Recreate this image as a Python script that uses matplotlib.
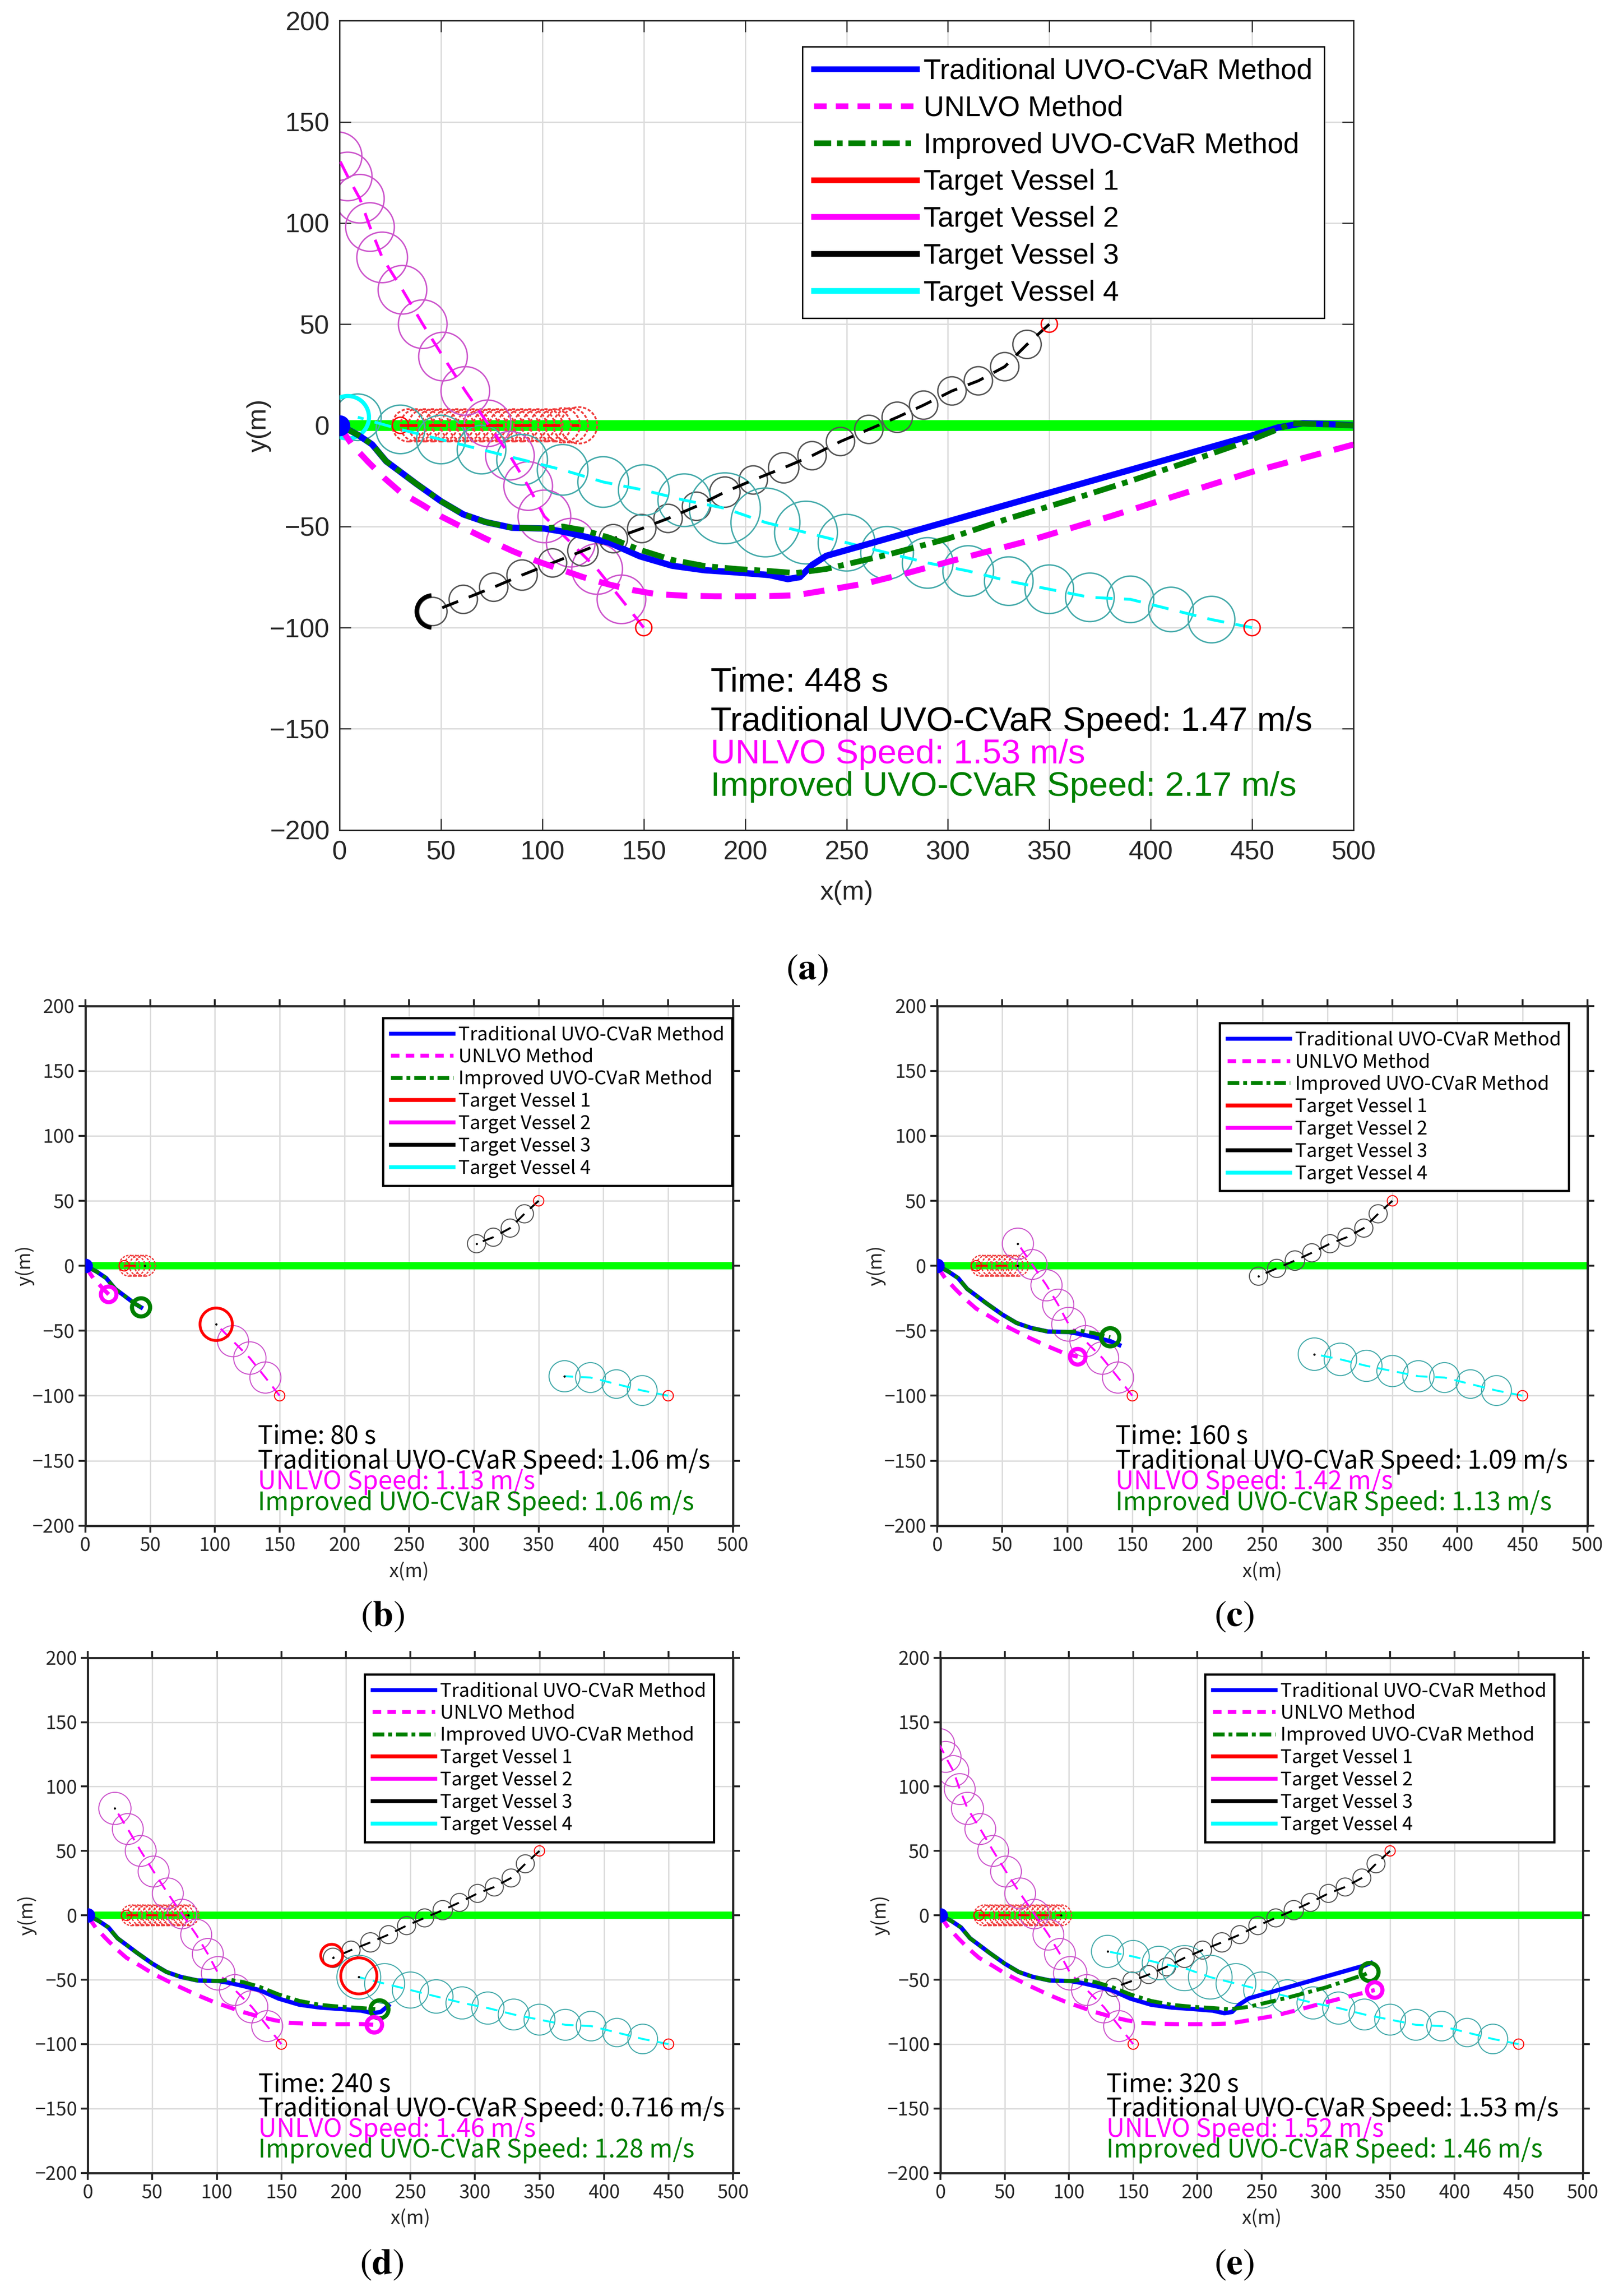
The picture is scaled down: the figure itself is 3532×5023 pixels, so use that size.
import matplotlib
matplotlib.use("Agg")
import matplotlib.pyplot as plt
from matplotlib.patches import Circle, Arc
from matplotlib.lines import Line2D

plt.rcParams["mathtext.fontset"] = "stix"

# own ship tracks (read from frame a, the full run)
trad_x = [0, 5, 9, 16, 23, 30, 38, 50, 61, 72, 85, 101, 110, 121, 133, 148, 164, 180, 196, 212,
          221, 227, 233, 240, 270, 300, 330, 360, 390, 420, 450, 463, 475, 490, 500]
trad_y = [0, -2.5, -4.7, -9.4, -17.8, -23, -29, -37.5, -44, -47.8, -50.6, -51, -52.5, -55, -58, -64.7, -69.4, -71.6, -72.7, -74,
          -76, -75, -69, -64.5, -56, -47.5, -39, -30.5, -22, -13.5, -5, -1, 1, 0.5, 0]
impr_x = [0, 5, 9, 16, 23, 30, 38, 50, 61, 72, 85, 101, 110, 121, 133, 148, 164, 180, 196, 212,
          225, 240, 270, 300, 330, 360, 390, 420, 450, 470, 485, 500]
impr_y = [0, -2.5, -4.7, -9.4, -17.8, -23, -29, -37.5, -44, -47.8, -50.6, -51, -50, -52, -55.5, -61.5, -66.5, -69.5, -71, -72,
          -73, -71, -64, -56, -46, -37, -27.5, -17.5, -7, 1, 0.5, 0]
unlvo_x = [0, 3, 6, 14, 22, 30, 41, 50, 61, 72, 85, 97, 109, 120, 133, 145, 156, 170, 185, 200,
           212, 225, 240, 260, 280, 300, 340, 380, 415, 450, 500]
unlvo_y = [0, -5, -9.4, -18, -26, -33, -39.4, -45, -50.6, -56, -62, -67, -71.2, -75, -78.7, -81.5, -83.4, -84.2, -84.5, -84.5,
           -84.4, -84, -81.5, -78, -73, -67.5, -57, -45, -34, -23, -9.5]

# target vessels: start point, then one circle every 20 s
tv1_start = (30, 0)
tv1_x = [34, 38, 42, 46, 50, 54, 58, 62, 66, 70, 74, 78, 82, 86, 90, 94, 98, 102, 106, 110, 114, 118]
tv1_y = [0, 0, 0, 0, 0, 0, 0, 0, 0, 0, 0, 0, 0, 0, 0, 0, 0, 0, 0, 0, 0, 0]
tv1_r = [8, 8, 8, 8, 8, 8, 8, 8, 8, 8, 8, 8, 8, 8, 8, 8, 8, 8, 8, 8.5, 8.5, 9]

tv2_start = (150, -100)
tv2_x = [139, 127, 114, 101, 93, 84, 73, 62, 51, 41, 31, 21, 15, 10, 4, -1]
tv2_y = [-86, -71, -58, -45, -30, -15, 1, 17, 34, 50, 67, 83, 98, 112, 123, 133]
tv2_r = [12, 12.5, 12, 13, 12, 12, 11.5, 12, 12, 12, 12, 12.5, 12, 12, 12, 12]

tv3_start = (350, 50)
tv3_x = [339, 328, 315, 302, 288, 275, 261, 247, 233, 219, 204, 190, 176, 162, 149, 135, 120, 105, 90, 76, 61, 46]
tv3_y = [40, 29, 22, 17, 10, 4, -2, -8, -15, -21, -27, -33, -40, -46, -51, -56, -62, -68, -74, -80, -86, -92]
tv3_r = [7, 7, 7, 7, 7, 7.5, 7, 7, 7, 7.5, 7, 7.5, 7, 7, 7, 7, 7.5, 7, 7.5, 7, 7, 7]

tv4_start = (450, -100)
tv4_x = [430, 410, 390, 370, 350, 330, 310, 290, 270, 250, 230, 210, 190, 170, 150, 130, 110, 90, 70, 50, 30, 9]
tv4_y = [-96, -91, -86, -85, -81, -77, -72, -68, -63, -58, -53, -48, -41, -37, -32, -28, -22, -17, -12, -7, -2, 4]
tv4_r = [11.5, 11, 11.5, 12, 12, 12, 12.5, 12.5, 13, 14, 15.5, 17, 17.5, 13, 12.5, 12.5, 12.5, 12.5, 12, 12, 12, 11.5]

# frames (a) 448 s, (b) 80 s, (c) 160 s, (d) 240 s, (e) 320 s
frame_tag = ["a", "b", "c", "d", "e"]
frame_time = [448, 80, 160, 240, 320]
trad_speed = ["1.47", "1.06", "1.09", "0.716", "1.53"]
unlvo_speed = ["1.53", "1.13", "1.42", "1.46", "1.52"]
impr_speed = ["2.17", "1.06", "1.13", "1.28", "1.46"]
trad_end = [None, (43, -32), (140, -61), (233, -70), (335, -37)]
impr_end = [None, (43, -32), (133, -55), (226, -73), (334, -44)]
unlvo_end = [None, (18, -22), (108, -70), (222, -85), (338, -58)]
# bold circles drawn on the vessels that are currently close
hl_x = [[46, 4], [101], [], [189, 210], []]
hl_y = [[-92, 4], [-45], [], [-31, -47], []]
hl_r = [[8, 10.5], [12.5], [], [8.5, 14], []]
hl_c = [["black", "cyan"], ["red"], [], ["red", "red"], []]
hl_arc = [[(95, 265), (0, 360)], [(0, 360)], [], [(0, 360), (0, 360)], []]
text_x = [183, 133, 137, 132, 129]

rects = [(0.2104, 0.6385, 0.6282, 0.3525),
         (0.0529, 0.3355, 0.4012, 0.2264),
         (0.5807, 0.3355, 0.4029, 0.2264),
         (0.0544, 0.0536, 0.3998, 0.2244),
         (0.5827, 0.0536, 0.3980, 0.2244)]
tag_pos = [(0.5, 0.5774), (0.237, 0.2958), (0.7645, 0.2958), (0.2364, 0.0135), (0.7645, 0.0135)]
leg_pos = [(0.971, 0.968), (0.9986, 0.977), (0.971, 0.967), (0.97, 0.968), (0.955, 0.968)]

FA = ["Liberation Sans", "DejaVu Sans"]
FB = ["Noto Sans CJK SC", "DejaVu Sans"]

BLUE = (0, 0, 1)
MAG = (1, 0, 1)
DGREEN = (0, 0.5, 0)


def cut(xs, ys, end):
    if end is None:
        return xs, ys
    px = [x for x in xs if x < end[0]] + [end[0]]
    py = [y for x, y in zip(xs, ys) if x < end[0]] + [end[1]]
    return px, py


fig = plt.figure(figsize=(35.32, 50.23), dpi=100)

for k in range(5):
    big = k == 0
    ax = fig.add_axes(rects[k])
    s = 1.0 if big else 0.68
    fam = FA if big else FB

    ax.set_xlim(0, 500)
    ax.set_ylim(-200, 200)
    ax.set_xticks(range(0, 501, 50))
    ax.set_yticks(range(-200, 201, 50))
    ax.set_axisbelow(True)
    ax.grid(True, color="#dcdcdc", lw=2.2)
    if big:
        ax.tick_params(direction="in", length=18, width=1.8, top=True, right=True,
                       labelsize=42, pad=16, colors="#262626", labelfontfamily=FA)
        for sp in ax.spines.values():
            sp.set_linewidth(2.2)
            sp.set_color("#262626")
    else:
        ax.tick_params(direction="out", length=11, width=3, top=True, right=True,
                       labelsize=30, pad=6, colors="#262626", labelfontfamily=FB)
        for sp in ax.spines.values():
            sp.set_linewidth(3.5)
            sp.set_color("#262626")

    # planned route
    ax.plot([0, 500], [0, 0], color=(0, 1, 0), lw=17 * s, zorder=1.5, solid_capstyle="butt")

    # target vessels
    n = frame_time[k] // 20
    vessels = [
        (tv1_start, tv1_x, tv1_y, tv1_r, "#f03c3c", "red", (0, (1.8, 1.0)), 2.8),
        (tv2_start, tv2_x, tv2_y, tv2_r, "#cc55cc", MAG, "-", 2.2),
        (tv3_start, tv3_x, tv3_y, tv3_r, "#555555", "black", "-", 2.2),
        (tv4_start, tv4_x, tv4_y, tv4_r, "#44aaaa", "cyan", "-", 2.2),
    ]
    for (sx, sy), vx, vy, vr, ccol, lcol, cls, clw in vessels:
        m = min(n, len(vx))
        for i in range(m):
            ax.add_patch(Circle((vx[i], vy[i]), vr[i], fill=False, ec=ccol,
                                lw=clw if big else clw * 0.75, ls=cls, zorder=2))
        ax.plot([sx] + vx[:m], [sy] + vy[:m], color=lcol, lw=4.5 * s, ls="--",
                dashes=(6, 4), zorder=3)
        ax.add_patch(Circle((sx, sy), 4, fill=False, ec="red", lw=2.2 if big else 1.6, zorder=3))
        if not big:
            ax.plot(vx[m - 1], vy[m - 1], ".", color="black", ms=5, zorder=3)

    for hx, hy, hr, hc, (t1, t2) in zip(hl_x[k], hl_y[k], hl_r[k], hl_c[k], hl_arc[k]):
        ax.add_patch(Arc((hx, hy), 2 * hr, 2 * hr, theta1=t1, theta2=t2, ec=hc,
                         lw=6.5 * s, zorder=3.5))

    # own ship trajectories
    ux, uy = cut(unlvo_x, unlvo_y, unlvo_end[k])
    ax.plot(ux, uy, color=MAG, lw=9.5 * s, ls="--", dashes=(3.5, 2.2), zorder=4)
    tx, ty = cut(trad_x, trad_y, trad_end[k])
    ax.plot(tx, ty, color=BLUE, lw=10 * s, zorder=4.1)
    ix, iy = cut(impr_x, impr_y, impr_end[k])
    ax.plot(ix, iy, color=DGREEN, lw=9 * s, ls="-.", dashes=(4, 1.2, 1, 1.2), zorder=4.2)
    if impr_end[k] is not None:
        ax.add_patch(Circle(impr_end[k], 7, fill=False, ec=DGREEN, lw=6.5, zorder=4.3))
        ax.add_patch(Circle(unlvo_end[k], 6, fill=False, ec=MAG, lw=6.5, zorder=4.3))
    ax.plot(0, 0, "o", color=BLUE, ms=32 * s, zorder=6)

    # speed read-out
    fs = 54 if big else 40
    lines = ["Time: %d s" % frame_time[k],
             "Traditional UVO-CVaR Speed: %s m/s" % trad_speed[k],
             "UNLVO Speed: %s m/s" % unlvo_speed[k],
             "Improved UVO-CVaR Speed: %s m/s" % impr_speed[k]]
    cols = ["black", "black", MAG, DGREEN]
    if big:
        ys = [-131.5, -151, -167, -183]
    else:
        ys = [-137, -156, -172, -188]
    for txt, c, yy in zip(lines, cols, ys):
        ax.text(text_x[k], yy, txt, color=c, fontsize=fs, family=fam, va="baseline", zorder=7)

    # legend
    handles = [
        Line2D([], [], color=BLUE, lw=9 * s),
        Line2D([], [], color=MAG, lw=9 * s, ls="--", dashes=(2.2, 1.6)),
        Line2D([], [], color=DGREEN, lw=9 * s, ls="-.", dashes=(3, 1, 1, 1)),
        Line2D([], [], color="red", lw=9 * s),
        Line2D([], [], color=MAG, lw=9 * s),
        Line2D([], [], color="black", lw=9 * s),
        Line2D([], [], color="cyan", lw=9 * s),
    ]
    names = ["Traditional UVO-CVaR Method", "UNLVO Method", "Improved UVO-CVaR Method",
             "Target Vessel 1", "Target Vessel 2", "Target Vessel 3", "Target Vessel 4"]
    leg = ax.legend(handles, names, loc="upper right", bbox_to_anchor=leg_pos[k],
                    borderaxespad=0, fancybox=False, framealpha=1, edgecolor="black",
                    prop={"family": fam, "size": 45 if big else 30},
                    handlelength=3.6 if big else 3.3, handletextpad=0.25,
                    labelspacing=0.35 if big else 0.18, borderpad=0.4)
    leg.get_frame().set_linewidth(2.2 if big else 3.5)
    leg.set_zorder(8)

    # axis labels
    ax.set_xlabel("x(m)", fontsize=42 if big else 30, family=fam, va="center", color="#262626")
    ax.set_ylabel("y(m)", fontsize=42 if big else 30, family=fam, va="center", color="#262626")
    if big:
        ax.xaxis.set_label_coords(0.5, -0.0774)
        ax.yaxis.set_label_coords(-0.0793, 0.5)
    else:
        ax.xaxis.set_label_coords(0.5, -0.088)
        ax.yaxis.set_label_coords(-0.094, 0.5)

    fig.text(tag_pos[k][0], tag_pos[k][1], r"($\mathbf{%s}$)" % frame_tag[k],
             fontsize=58, family="STIXGeneral", ha="center", va="center")

fig.savefig("out.png", dpi=100)
